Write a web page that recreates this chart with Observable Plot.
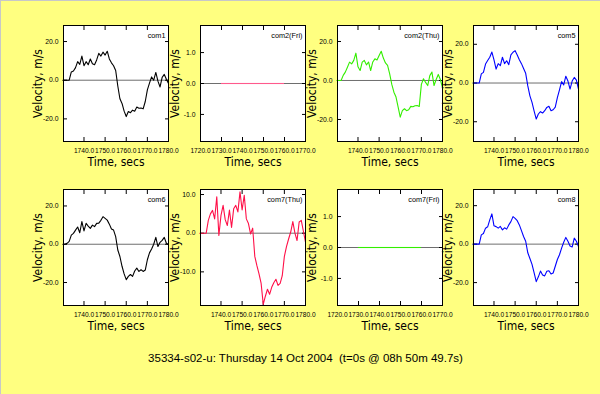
<!DOCTYPE html>
<html><head><meta charset="utf-8">
<script src="https://cdn.jsdelivr.net/npm/d3@7"></script>
<script src="https://cdn.jsdelivr.net/npm/@observablehq/plot@0.6"></script>
<style>
html,body{margin:0;padding:0;background:#ffff80;}
#root{position:relative;width:600px;height:394px;background:#ffff80;overflow:hidden;box-shadow:inset 1px 1px 0 #c8c8c8;}
#caption{position:absolute;left:0;width:611px;top:351px;line-height:14px;text-align:center;font-family:"Liberation Sans",Arial,sans-serif;font-size:11.5px;color:#000;white-space:pre;}
</style></head>
<body><div id="root"><div id="caption">35334-s02-u: Thursday 14 Oct 2004  (t=0s @ 08h 50m 49.7s)</div></div>
<script>
// ---- data ----
const thuTimes = [1730,1731,1732,1733,1734,1735,1736,1737,1738,1739,1740,1741,1742,1743,1744,1745,1746,1747,1748,1749,1750,1751,1752,1753,1754,1755,1756,1757,1758,1759,1760,1761,1762,1763,1764,1765,1766,1767,1768,1769,1770,1771,1772,1773,1774,1775,1776,1777,1778,1779,1780];
const friTimes = [1730,1740,1750,1760];

const com1 = [0,0,0,0,4.3,4.8,6.5,9.6,8.2,12.5,7.5,9.6,8.0,11.0,8.5,8.0,10.5,13.9,12.5,14.5,13.0,15.0,11.0,9.0,7.5,5.0,-3.0,-9.6,-12.0,-16.0,-18.8,-16.2,-16.8,-15.5,-16.0,-13.9,-14.5,-14.4,-14.8,-11.0,-5.0,-1.5,1.7,0.0,4.0,-0.5,-3.5,1.5,3.0,0.5,-1.7];
const com2Fri = [0,0,0,0];
const com2Thu = [0,0,0,2.6,4.3,6.8,9.4,8.5,10.3,14.0,7.0,5.1,9.4,10.3,8.0,9.5,5.1,9.5,11.1,10.5,12.8,15.0,11.5,9.0,7.7,3.4,-2.0,-6.0,-8.5,-13.7,-18.8,-15.5,-14.5,-15.5,-15.0,-13.3,-13.5,-13.0,-12.8,-13.3,-2.0,0.9,-1.0,-2.6,2.5,4.3,-2.6,0.5,3.1,0.5,-3.8];
const com5 = [0,0,0,0,4.7,5.5,9.8,11.6,13.3,16.0,12.0,7.2,10.0,9.0,13.3,10.0,11.5,9.5,14.5,15.9,16.7,14.5,12.0,10.0,7.5,5.0,-1.5,-6.6,-10.0,-14.5,-18.6,-16.0,-14.8,-15.5,-14.3,-12.6,-12.0,-14.3,-13.8,-12.5,-7.5,-3.5,0.7,-1.0,3.5,1.0,-3.1,1.0,2.9,1.5,-3.1];
const com6 = [0,0,0.5,1.5,4.8,5.7,7.4,9.0,6.0,11.8,7.0,10.9,9.5,8.3,10.0,9.2,10.9,11.0,12.5,14.4,13.5,12.6,10.5,8.0,7.4,4.0,-3.0,-6.4,-11.5,-15.5,-18.5,-16.8,-15.8,-16.8,-14.0,-12.5,-14.2,-13.3,-14.2,-13.5,-8.1,-4.5,-2.5,0.0,3.6,-1.2,1.0,2.0,3.6,0.5,-0.3];
const com7Thu = [0,0,0,0,3.3,5.0,5.9,3.7,9.4,-0.6,4.6,7.2,3.5,2.0,6.0,1.5,6.3,7.2,5.5,10.7,6.0,9.8,3.7,2.5,-0.2,1.3,-6.0,-8.4,-10.5,-13.0,-18.4,-16.3,-14.5,-15.8,-14.0,-12.8,-11.9,-13.5,-13.0,-11.0,-6.0,-3.5,-1.5,0.3,3.0,0.0,-1.9,2.9,3.3,0.5,-2.3];
const com7Fri = [0,0,0,0];
const com8 = [0,0,0,0,4.8,5.5,8.3,9.0,12.6,15.7,9.5,9.1,8.3,9.2,7.4,8.5,7.8,10.0,11.7,14.3,13.4,12.2,10.0,7.0,4.0,1.5,-4.5,-7.5,-10.5,-15.0,-19.5,-17.0,-14.0,-16.0,-16.5,-14.1,-13.8,-15.5,-15.0,-11.5,-8.0,-5.5,-2.1,1.0,3.5,1.5,-1.0,-1.5,3.1,1.5,-1.2];

const thuXDomain = [1730.3, 1780];
const friXDomain = [1720, 1770];
const thuXTicks = [1740, 1750, 1760, 1770, 1780];
const friXTicks = [1720, 1730, 1740, 1750, 1760, 1770];
const bigYTicks = [-20, 0, 20];
const midYTicks = [-10, 0, 10];
const smallYTicks = [-1, 0, 1];

const names = ["com1", "com2(Fri)", "com2(Thu)", "com5", "com6", "com7(Thu)", "com7(Fri)", "com8"];
const seriesValues = [com1, com2Fri, com2Thu, com5, com6, com7Thu, com7Fri, com8];
const seriesTimes = [thuTimes, friTimes, thuTimes, thuTimes, thuTimes, thuTimes, friTimes, thuTimes];
const xDomains = [thuXDomain, friXDomain, thuXDomain, thuXDomain, thuXDomain, thuXDomain, friXDomain, thuXDomain];
const xTickSets = [thuXTicks, friXTicks, thuXTicks, thuXTicks, thuXTicks, thuXTicks, friXTicks, thuXTicks];
const yDomains = [[-31.7, 28.3], [-1.875, 1.875], [-31.3, 28.2], [-30.2, 29.7], [-32, 28.6], [-18.7, 11.3], [-1.875, 1.875], [-31.9, 28.4]];
const yTickSets = [bigYTicks, smallYTicks, bigYTicks, bigYTicks, bigYTicks, midYTicks, smallYTicks, bigYTicks];
const colors = ["#000000", "#ff5a8c", "#33ee00", "#0000ff", "#000000", "#ff1048", "#33ee00", "#0000ff"];

// ---- layout ----
const colLeft = [63, 200, 337, 473];
const rowTop = [25, 189];
const root = document.getElementById("root");
const fmt = d => d.toFixed(1);
const narrow = "'Liberation Sans Narrow','DejaVu Sans Condensed','Liberation Sans',sans-serif";

names.forEach((name, i) => {
  const col = i % 4, row = Math.floor(i / 4);
  const rows = seriesTimes[i].map((t, k) => ({t, v: seriesValues[i][k]}));
  const flat = rows.every(r => r.v === rows[0].v);
  // a perfectly flat series is drawn as rule segments (a zero-height path is not painted by the renderer)
  const segs = rows.slice(1).map((r, k) => ({t1: rows[k].t, t2: r.t, v: r.v}));
  const dataMark = flat
    ? Plot.ruleY(segs, {y: "v", x1: "t1", x2: "t2", stroke: colors[i], strokeWidth: 1.1})
    : Plot.lineY(rows, {x: "t", y: "v", stroke: colors[i], strokeWidth: 1.1});
  const chart = Plot.plot({
    width: 178, height: 171,
    marginLeft: 63, marginRight: 10, marginTop: 25, marginBottom: 30,
    style: {background: "transparent", fontFamily: "'Liberation Sans',Arial,sans-serif", overflow: "visible", color: "#000"},
    x: {domain: xDomains[i]},
    y: {domain: yDomains[i]},
    marks: [
      Plot.frame({fill: "white"}),
      Plot.ruleY([0], {stroke: "#6e6e6e"}),
      Plot.axisX({anchor: "bottom", ticks: xTickSets[i], tickSize: -4, tickPadding: 10.5, tickFormat: fmt, fontSize: 6.6, fill: "black", label: null}),
      Plot.axisX({anchor: "top", ticks: xTickSets[i], tickSize: -4, fill: "none", label: null}),
      Plot.axisY({anchor: "left", ticks: yTickSets[i], tickSize: -4, tickPadding: 9, tickFormat: fmt, fontSize: 6.8, fill: "black", label: null}),
      Plot.axisY({anchor: "right", ticks: yTickSets[i], tickSize: -4, fill: "none", label: null}),
      dataMark,
      Plot.text([name], {text: d => d, frameAnchor: "top-right", dx: -3, dy: 10, fontSize: 7.3, textAnchor: "end", lineAnchor: "middle", fill: "black"}),
      Plot.text(["Time, secs"], {text: d => d, frameAnchor: "bottom", dy: 21, fontSize: 12, textAnchor: "middle", lineAnchor: "middle", fontFamily: narrow, fill: "black"}),
      Plot.text(["Velocity, m/s"], {text: d => d, frameAnchor: "left", dx: -25, rotate: -90, fontSize: 12, textAnchor: "middle", lineAnchor: "middle", fontFamily: narrow, fill: "black"}),
      Plot.frame({stroke: "black"})
    ]
  });
  chart.style.position = "absolute";
  chart.style.left = (colLeft[col] - 63) + "px";
  chart.style.top = (rowTop[row] - 25) + "px";
  chart.style.maxWidth = "none";
  root.appendChild(chart);
});
</script>
</body></html>
